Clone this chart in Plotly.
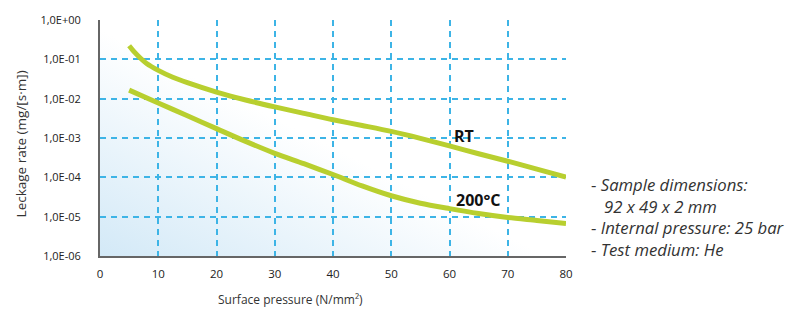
import base64
import plotly.graph_objects as go

# Data
rt_x = [5, 6, 7, 8, 10, 12.5, 15, 20, 25, 30, 35, 40, 45, 50, 55, 60, 65, 70, 75, 80]
rt_y = [0.222, 0.148, 0.105, 0.0785, 0.0525, 0.035, 0.0255, 0.0147, 0.00925, 0.00617, 0.00424,
        0.00291, 0.00208, 0.00147, 9.8e-4, 6.3e-4, 3.98e-4, 2.57e-4, 1.62e-4, 1.02e-4]
hot_x = [5, 10, 15, 20, 25, 30, 35, 40, 45, 50, 55, 60, 65, 70, 75, 80]
hot_y = [0.0165, 0.00778, 0.00367, 0.00173, 8.2e-4, 4.08e-4, 2.22e-4, 1.18e-4, 6.06e-5, 3.4e-5,
         2.2e-5, 1.6e-5, 1.2e-5, 9.5e-6, 8.0e-6, 6.7e-6]
y_tickvals = [1e0, 1e-1, 1e-2, 1e-3, 1e-4, 1e-5, 1e-6]
y_ticktext = ["1,0E+00", "1,0E-01", "1,0E-02", "1,0E-03", "1,0E-04", "1,0E-05", "1,0E-06"]
x_tickvals = [0, 10, 20, 30, 40, 50, 60, 70, 80]
notes = ["- <i>Sample dimensions:</i>", "&nbsp;&nbsp;&nbsp;<i>92 x 49 x 2 mm</i>",
         "- <i>Internal pressure: 25 bar</i>", "- <i>Test medium: He</i>"]

LINE = "#b8cf2f"
GRID = "#3db4e6"
FONT = "Open Sans"
W, H = 808, 311
L, R, T, B = 100, 242, 17, 55

svg = ('<svg xmlns="http://www.w3.org/2000/svg" width="200" height="100" viewBox="0 0 200 100" preserveAspectRatio="none">'
       '<defs><linearGradient id="g" x1="0" y1="1" x2="1" y2="0">'
       '<stop offset="0" stop-color="#d3e9f7"/>'
       '<stop offset="0.48" stop-color="#ffffff"/>'
       '</linearGradient></defs><rect width="200" height="100" fill="url(#g)"/></svg>')
src = "data:image/svg+xml;base64," + base64.b64encode(svg.encode()).decode()

fig = go.Figure()
fig.add_trace(go.Scatter(x=rt_x, y=rt_y, mode="lines",
                         line=dict(color=LINE, width=5, shape="spline", smoothing=0.8),
                         showlegend=False, hoverinfo="skip"))
fig.add_trace(go.Scatter(x=hot_x, y=hot_y, mode="lines",
                         line=dict(color=LINE, width=5, shape="spline", smoothing=0.8),
                         showlegend=False, hoverinfo="skip"))

fig.add_layout_image(dict(source=src, xref="x domain", yref="y domain", x=0, y=1, sizex=1, sizey=1,
                          xanchor="left", yanchor="top", sizing="stretch", layer="below"))

fig.add_annotation(x=62.5, y=-2.96, xref="x", yref="y", text="<b>RT</b>", showarrow=False,
                   font=dict(family=FONT, size=16, color="#111"), xanchor="center", yanchor="middle")
fig.add_annotation(x=65.0, y=-4.57, xref="x", yref="y", text="<b>200°C</b>", showarrow=False,
                   font=dict(family=FONT, size=16, color="#111"), xanchor="center", yanchor="middle")


def px_x(p):
    return (p - L) / (W - L - R)


def px_y(p):
    return (H - B - p) / (H - T - B)


fig.add_annotation(x=px_x(589), y=px_y(217), xref="paper", yref="paper", text="<br>".join(notes),
                   showarrow=False, xanchor="left", yanchor="middle", align="left",
                   font=dict(family=FONT, size=16.7, color="#333"))

fig.add_annotation(x=px_x(21), y=px_y(143), xref="paper", yref="paper", text="Leckage rate (mg/[s·m])",
                   textangle=-90, showarrow=False, xanchor="center", yanchor="middle",
                   font=dict(family=FONT, size=13.5, color="#333"))
fig.add_annotation(x=px_x(290), y=px_y(300), xref="paper", yref="paper", text="Surface pressure (N/mm²)",
                   showarrow=False, xanchor="center", yanchor="middle",
                   font=dict(family=FONT, size=12, color="#333"))

fig.update_layout(
    width=W, height=H,
    margin=dict(l=L, r=R, t=T, b=B),
    paper_bgcolor="white", plot_bgcolor="rgba(0,0,0,0)",
    font=dict(family=FONT, size=11, color="#222"),
)
fig.update_xaxes(range=[0, 80], tickvals=x_tickvals, showline=True, linecolor="#666", linewidth=2,
                 showgrid=True, gridcolor=GRID, gridwidth=1.5, griddash="6px,5px", zeroline=False,
                 ticks="", ticklabelstandoff=6, tickfont=dict(size=11.5), fixedrange=True)
fig.update_yaxes(type="log", range=[-6, 0], tickvals=y_tickvals, ticktext=y_ticktext, showline=True,
                 linecolor="#666", linewidth=2, showgrid=True, gridcolor=GRID, gridwidth=1.5,
                 griddash="6px,5px", zeroline=False, ticks="", ticklabelstandoff=15,
                 tickfont=dict(size=11), fixedrange=True)

fig.write_html("out.html", config={"displayModeBar": False},
               post_script="document.body.style.margin='0';")
